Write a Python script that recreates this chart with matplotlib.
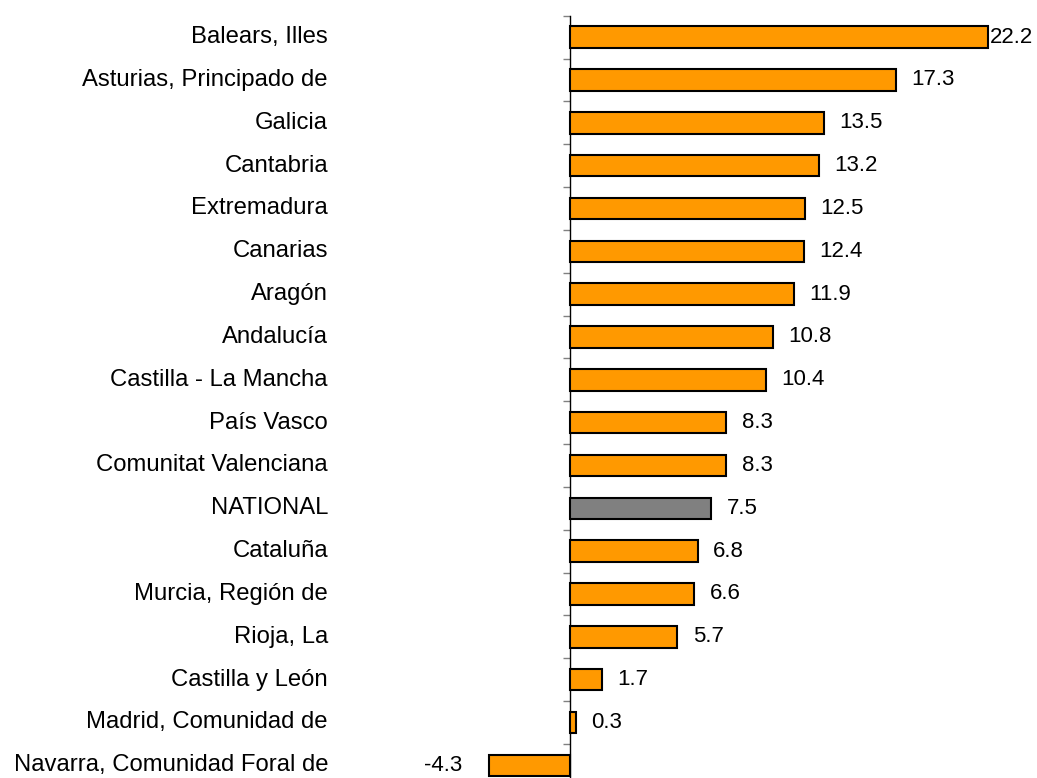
import numpy as np
import matplotlib.pyplot as plt
from matplotlib.transforms import blended_transform_factory

# Datos (de arriba abajo)
regiones = ["Balears, Illes", "Asturias, Principado de", "Galicia", "Cantabria",
            "Extremadura", "Canarias", "Aragón", "Andalucía", "Castilla - La Mancha",
            "País Vasco", "Comunitat Valenciana", "NATIONAL", "Cataluña",
            "Murcia, Región de", "Rioja, La", "Castilla y León",
            "Madrid, Comunidad de", "Navarra, Comunidad Foral de"]
valores = [22.2, 17.3, 13.5, 13.2, 12.5, 12.4, 11.9, 10.8, 10.4, 8.3, 8.3, 7.5,
           6.8, 6.6, 5.7, 1.7, 0.3, -4.3]

plt.rcParams['font.family'] = ['Liberation Sans', 'DejaVu Sans']

fig = plt.figure(figsize=(10.37, 7.78), dpi=100)
ax = fig.add_axes([0.4044, -0.0112, 0.5811, 0.991])

y = np.arange(len(regiones))
colores = ['#808080' if r == "NATIONAL" else '#FF9900' for r in regiones]
ax.barh(y, valores, height=0.5, color=colores, edgecolor='black', linewidth=1.5, zorder=3)

ax.set_xlim(-8, 24)
ax.set_ylim(len(regiones) - 0.5, -0.5)

# Solo el eje vertical en x=0
for lado in ['top', 'right', 'bottom']:
    ax.spines[lado].set_visible(False)
ax.spines['left'].set_position(('data', 0))
ax.spines['left'].set_linewidth(1.0)
ax.set_xticks([])
ax.set_yticks([])
ax.set_yticks(np.arange(-0.5, len(regiones)), minor=True)
ax.tick_params(axis='y', which='minor', length=5, width=1, color='#808080', labelleft=False)

# Etiquetas de categorías
trans = blended_transform_factory(fig.transFigure, ax.transData)
for i, r in enumerate(regiones):
    ax.text(328 / 1037, i, r, transform=trans, ha='right', va='center', fontsize=17.2)

# Etiquetas de valores
vmax = max(valores)
for i, v in enumerate(valores):
    if v < 0:
        ax.annotate(f"{v:.1f}", (v, i), xytext=(-19, 0), textcoords='offset points',
                    ha='right', va='center', fontsize=16)
    else:
        pad = 1.5 if v == vmax else 11
        ax.annotate(f"{v:.1f}", (v, i), xytext=(pad, 0), textcoords='offset points',
                    ha='left', va='center', fontsize=16)

fig.savefig("out.png", dpi=100)
